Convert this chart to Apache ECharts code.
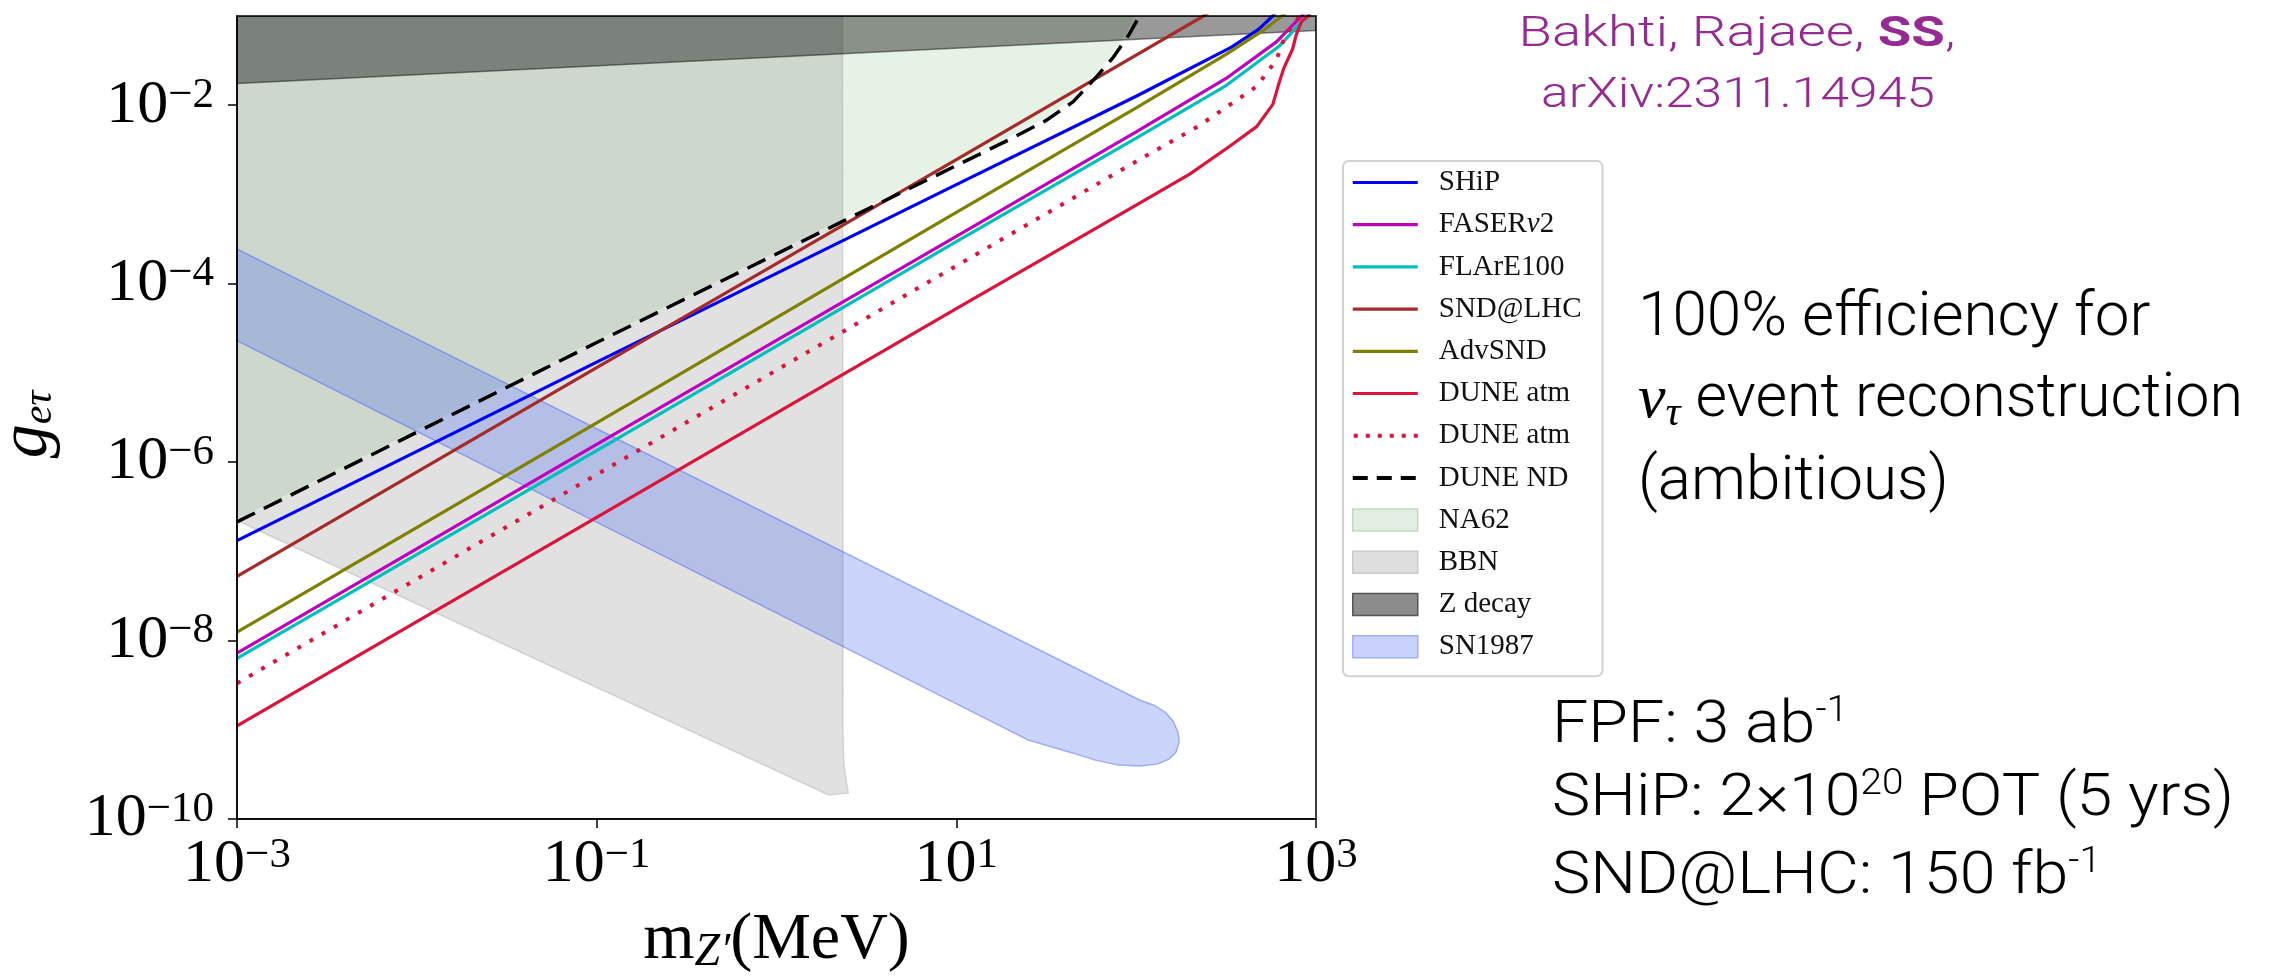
<!DOCTYPE html>
<html><head><meta charset="utf-8">
<script src="https://cdn.jsdelivr.net/npm/echarts@6.0.0/dist/echarts.min.js"></script>
<style>html,body{margin:0;padding:0;background:#fff}#c{width:2284px;height:976px}</style>
</head><body><div id="c"></div>
<script>
// ---- tick values ----
const xTicks = [1e-3, 1e-1, 1e1, 1e3];
const yTicks = [1e-10, 1e-8, 1e-6, 1e-4, 1e-2];

// ---- sensitivity curves (m_Z' in MeV, g) ----
const shipX = [1e-3, 1e-1, 10, 100, 339, 479, 575, 631];
const shipY = [1.32e-7, 1.32e-5, 1.29e-3, 1.26e-2, 4.47e-2, 7.08e-2, 0.1, 0.126];

const faserX = [1e-3, 0.1, 10, 100, 316.2, 602.6, 831.8, 912];
const faserY = [7.244e-9, 1.585e-6, 3.388e-4, 5.012e-3, 1.995e-2, 5.129e-2, 0.1, 0.1259];

const flareX = [1e-3, 0.1, 10, 100, 316.2, 631, 891.3, 955];
const flareY = [6.31e-9, 1.349e-6, 2.951e-4, 4.266e-3, 1.66e-2, 4.677e-2, 0.1, 0.1259];

const sndX = [1e-3, 0.1, 10, 251];
const sndY = [5.25e-8, 1.148e-5, 2.455e-3, 0.1072];

const advX = [1e-3, 0.1, 10, 100, 316.2, 501.2, 645.7, 724.4];
const advY = [1.245e-8, 2.754e-6, 6.31e-4, 9.33e-3, 3.715e-2, 6.76e-2, 0.1, 0.1202];

const duneX = [1e-3, 0.1, 10, 100, 199.5, 331.1, 467.7, 575.4, 616.6, 660.7, 741.3, 776.2, 831.8, 933.3];
const duneY = [1.107e-9, 2.399e-7, 5.248e-5, 7.586e-4, 1.698e-3, 3.467e-3, 5.754e-3, 1.023e-2, 1.66e-2, 2.57e-2, 4.266e-2, 6.166e-2, 8.71e-2, 0.1047];

const duneDotX = [1e-3, 0.1, 10, 100, 223.9, 467.7, 602.6, 676.1, 776.2, 831.8];
const duneDotY = [3.311e-9, 7.244e-7, 1.585e-4, 2.344e-3, 5.888e-3, 1.622e-2, 3.236e-2, 6.166e-2, 8.71e-2, 0.1122];

const ndX = [1e-3, 0.1, 3.162, 19.95, 31.62, 44.67, 60.26, 74.13, 91.2, 102.3, 112.2];
const ndY = [2.138e-7, 2.188e-5, 6.761e-4, 4.169e-3, 6.761e-3, 1.096e-2, 2.089e-2, 3.388e-2, 6.166e-2, 9.333e-2, 0.1259];

// ---- excluded regions (polygon outlines) ----
const na62X = [1e-3, 97.7, 89.1, 74.13, 60.26, 44.67, 31.62, 19.95, 3.162, 0.1, 1e-3];
const na62Y = [0.1, 0.1, 6.761e-2, 3.802e-2, 2.291e-2, 1.175e-2, 7.244e-3, 4.467e-3, 7.244e-4, 2.344e-5, 2.291e-7];

const bbnX = [1e-3, 2.328, 2.344, 2.371, 2.455, 2.512, 1.945, 1e-3];
const bbnY = [0.1, 0.1, 1e-9, 3.981e-10, 2.512e-10, 1.95e-10, 1.862e-10, 2.213e-7];

const zX = [1e-3, 1e3, 1e3, 1e-3];
const zY = [1.754e-2, 6.871e-2, 0.1, 0.1];

const snX = [1e-3, 105.2, 125.9, 144.9, 160.7, 171.0, 173.4, 166.7, 152.4, 130.9, 105.2, 79.43, 59.16, 44.67, 25.12, 1e-3];
const snY = [2.455e-4, 2.143e-9, 1.884e-9, 1.574e-9, 1.247e-9, 9.397e-10, 7.261e-10, 5.61e-10, 4.688e-10, 4.121e-10, 3.917e-10, 4.018e-10, 4.571e-10, 5.47e-10, 7.656e-10, 2.291e-5];

// ---- helpers ----
function pairs(xs, ys) { return xs.map((x, i) => [x, ys[i]]); }
function lineSeries(name, xs, ys, color, width, dash) {
  return {
    name: name, type: 'line', data: pairs(xs, ys), showSymbol: false, symbol: 'none',
    clip: true, silent: true, emphasis: { disabled: true },
    lineStyle: { color: color, width: width, type: dash || 'solid', cap: 'butt' },
    itemStyle: { color: color }
  };
}
function regionSeries(name, xs, ys, fill, stroke, lw) {
  return {
    name: name, type: 'custom', coordinateSystem: 'cartesian2d', clip: true, silent: true,
    itemStyle: { color: fill, borderColor: stroke, borderWidth: lw },
    data: [[xs[0], ys[0]]],
    renderItem: function (params, api) {
      const pts = xs.map((x, i) => api.coord([x, ys[i]]));
      return { type: 'polygon', shape: { points: pts },
        style: { fill: fill, stroke: stroke || 'none', lineWidth: lw || 0 } };
    }
  };
}
function powLabel(v) {
  const e = Math.round(Math.log10(v));
  return '{b|10}{e|' + (e < 0 ? '\u2212' + (-e) : e) + '}';
}
const serif = 'Liberation Serif';
const tickRich = {
  b: { fontFamily: serif, fontSize: 62, lineHeight: 62, color: '#000' },
  e: { fontFamily: serif, fontSize: 43, lineHeight: 38, color: '#000', verticalAlign: 'top' }
};
const legTxt = { fontFamily: serif, fontSize: 29, lineHeight: 30, color: '#111', padding: [0, 0, 0, 16] };
const legItalic = { fontFamily: serif, fontSize: 29, lineHeight: 30, color: '#111', fontStyle: 'italic' };

// legend icon shapes (65 x 22 box)
const solidIcon = 'path://M0,0L0,0M0,9.4L65,9.4L65,12.6L0,12.6ZM65,22L65,22';
const dashIcon = 'path://M0,0L0,0M0,9L15,9L15,13L0,13ZM24,9L39,9L39,13L24,13ZM48,9L63,9L63,13L48,13ZM65,22L65,22';
const dotIcon = 'path://M0,0L0,0M1,9L5,9L5,13L1,13ZM13,9L17,9L17,13L13,13ZM25,9L29,9L29,13L25,13ZM37,9L41,9L41,13L37,13ZM49,9L53,9L53,13L49,13ZM61,9L65,9L65,13L61,13ZM65,22L65,22';
function legLine(name, icon, color) { return { name: name, icon: icon, itemStyle: { color: color, borderWidth: 0 } }; }

const sans = 'Roboto';
const chart = echarts.init(document.getElementById('c'), null, { renderer: 'canvas' });
const option = {
  animation: false,
  backgroundColor: '#ffffff',
  grid: { left: 237, right: 968, top: 16, bottom: 157, containLabel: false, outerBoundsMode: 'none',
    show: true, borderColor: '#000', borderWidth: 1.5, z: 10, backgroundColor: 'transparent' },
  xAxis: {
    type: 'log', logBase: 10, min: 1e-3, max: 1e3, z: 10,
    name: '{m|m}{z|Z\u2032}{m|(MeV)}', nameLocation: 'middle', nameGap: 87,
    nameTextStyle: { rich: {
      m: { fontFamily: serif, fontSize: 66, lineHeight: 70, color: '#000' },
      z: { fontFamily: serif, fontSize: 46, lineHeight: 54, color: '#000', fontStyle: 'italic', verticalAlign: 'bottom' }
    } },
    axisLine: { show: true, lineStyle: { color: '#000', width: 1.5 } },
    axisTick: { show: true, length: 9, inside: false, customValues: xTicks, lineStyle: { color: '#000', width: 1.5 } },
    minorTick: { show: false },
    axisLabel: { customValues: xTicks, margin: 15, formatter: powLabel, rich: tickRich },
    splitLine: { show: false }
  },
  yAxis: {
    type: 'log', logBase: 10, min: 1e-10, max: 1e-1, z: 10,
    name: '{g|g}{s|e\u03c4}', nameLocation: 'middle', nameRotate: 90, nameGap: 176,
    nameTextStyle: { padding: [0, 14, 0, 0], rich: {
      g: { fontFamily: serif, fontSize: 68, lineHeight: 66, color: '#000', fontStyle: 'italic' },
      s: { fontFamily: serif, fontSize: 42, lineHeight: 48, color: '#000', fontStyle: 'italic', verticalAlign: 'bottom' }
    } },
    axisLine: { show: true, lineStyle: { color: '#000', width: 1.5 } },
    axisTick: { show: true, length: 9, inside: false, customValues: yTicks, lineStyle: { color: '#000', width: 1.5 } },
    minorTick: { show: false },
    axisLabel: { customValues: yTicks, margin: 23, formatter: powLabel, rich: tickRich },
    splitLine: { show: false }
  },
  legend: {
    orient: 'vertical', left: 1343, top: 161, selectedMode: false,
    padding: [7, 21, 15, 9], itemWidth: 65, itemHeight: 22, itemGap: 13.2,
    backgroundColor: 'rgba(255,255,255,0.9)', borderColor: '#d2d2d2', borderWidth: 2, borderRadius: 6,
    textStyle: { fontFamily: serif, fontSize: 29, color: '#111', rich: { t: legTxt, i: legItalic, u: { fontFamily: serif, fontSize: 29, lineHeight: 30, color: '#111' } } },
    formatter: function (name) {
      if (name === 'FASER\u03bd2') return '{t|FASER}{i|\u03bd}{u|2}';
      return '{t|' + name + '}';
    },
    data: [
      legLine('SHiP', solidIcon, '#0000ff'),
      legLine('FASER\u03bd2', solidIcon, '#bf00bf'),
      legLine('FLArE100', solidIcon, '#00bfbf'),
      legLine('SND@LHC', solidIcon, '#a52a2a'),
      legLine('AdvSND', solidIcon, '#808000'),
      legLine('DUNE atm', solidIcon, '#dc143c'),
      legLine('DUNE atm\u00a0', dotIcon, '#dc143c'),
      legLine('DUNE ND', dashIcon, '#000000'),
      { name: 'NA62', icon: 'rect', itemStyle: { color: '#e3efe3', borderColor: '#bfdcbf', borderWidth: 1.5 } },
      { name: 'BBN', icon: 'rect', itemStyle: { color: '#dedede', borderColor: '#cacaca', borderWidth: 1.5 } },
      { name: 'Z decay', icon: 'rect', itemStyle: { color: '#8c8c8c', borderColor: '#555555', borderWidth: 1.5 } },
      { name: 'SN1987', icon: 'rect', itemStyle: { color: '#cad2fb', borderColor: '#9fb0f8', borderWidth: 1.5 } }
    ]
  },
  series: [
    lineSeries('SHiP', shipX, shipY, '#0000ff', 3.2),
    lineSeries('FASER\u03bd2', faserX, faserY, '#bf00bf', 3.2),
    lineSeries('FLArE100', flareX, flareY, '#00bfbf', 3.2),
    lineSeries('SND@LHC', sndX, sndY, '#a52a2a', 3.2),
    lineSeries('AdvSND', advX, advY, '#808000', 3.2),
    lineSeries('DUNE atm', duneX, duneY, '#dc143c', 3.2),
    lineSeries('DUNE atm\u00a0', duneDotX, duneDotY, '#dc143c', 4, [4, 10]),
    lineSeries('DUNE ND', ndX, ndY, '#000000', 3.5, [20, 10]),
    regionSeries('NA62', na62X, na62Y, 'rgba(0,128,0,0.1)', null, 0),
    regionSeries('BBN', bbnX, bbnY, 'rgba(128,128,128,0.24)', 'rgba(128,128,128,0.25)', 1.5),
    regionSeries('Z decay', zX, zY, 'rgba(0,0,0,0.4)', 'rgba(0,0,0,0.45)', 1.5),
    regionSeries('SN1987', snX, snY, 'rgba(70,100,240,0.28)', 'rgba(70,100,240,0.45)', 1.5)
  ],
  graphic: [
    { type: 'text', x: 1737, y: 35, scaleX: 1.27, style: { text: '{p|Bakhti, Rajaee, }{b|SS}{p|,}', align: 'center', verticalAlign: 'middle', textAlign: 'center', textVerticalAlign: 'middle',
      rich: { p: { fontFamily: sans, fontWeight: 300, fontSize: 43, fill: '#952a92' }, b: { fontFamily: sans, fontWeight: 'bold', fontSize: 43, fill: '#952a92' } } } },
    { type: 'text', x: 1738, y: 96, scaleX: 1.2, style: { text: 'arXiv:2311.14945', align: 'center', verticalAlign: 'middle', textAlign: 'center', textVerticalAlign: 'middle',
      fontFamily: sans, fontWeight: 300, fontSize: 43, fill: '#952a92' } },
    { type: 'text', x: 1638, y: 319, style: { text: '100% efficiency for', align: 'left', verticalAlign: 'middle', textAlign: 'left', textVerticalAlign: 'middle',
      fontFamily: sans, fontWeight: 300, fontSize: 62, fill: '#000' } },
    { type: 'text', x: 1638, y: 401, style: { text: '{nu|\u03bd}{tau|\u03c4}{n| event reconstruction}', align: 'left', verticalAlign: 'middle', textAlign: 'left', textVerticalAlign: 'middle',
      rich: { nu: { fontFamily: serif, fontStyle: 'italic', fontSize: 62, lineHeight: 68, fill: '#000' },
              tau: { fontFamily: serif, fontStyle: 'italic', fontSize: 42, lineHeight: 42, fill: '#000', verticalAlign: 'bottom' },
              n: { fontFamily: sans, fontWeight: 300, fontSize: 61, lineHeight: 68, fill: '#000' } } } },
    { type: 'text', x: 1638, y: 483, style: { text: '(ambitious)', align: 'left', verticalAlign: 'middle', textAlign: 'left', textVerticalAlign: 'middle',
      fontFamily: sans, fontWeight: 300, fontSize: 62, fill: '#000' } },
    { type: 'text', x: 1552, y: 727, scaleX: 1.075, style: { text: '{n|FPF: 3 ab}{s|-1}', align: 'left', verticalAlign: 'middle', textAlign: 'left', textVerticalAlign: 'middle',
      rich: { n: { fontFamily: sans, fontWeight: 300, fontSize: 60, lineHeight: 66, fill: '#000' }, s: { fontFamily: sans, fontWeight: 300, fontSize: 36, lineHeight: 40, fill: '#000', verticalAlign: 'top' } } } },
    { type: 'text', x: 1552, y: 800, scaleX: 1.075, style: { text: '{n|SHiP: 2\u00d710}{s|20}{n| POT (5 yrs)}', align: 'left', verticalAlign: 'middle', textAlign: 'left', textVerticalAlign: 'middle',
      rich: { n: { fontFamily: sans, fontWeight: 300, fontSize: 60, lineHeight: 66, fill: '#000' }, s: { fontFamily: sans, fontWeight: 300, fontSize: 36, lineHeight: 40, fill: '#000', verticalAlign: 'top' } } } },
    { type: 'text', x: 1552, y: 878, scaleX: 1.075, style: { text: '{n|SND@LHC: 150 fb}{s|-1}', align: 'left', verticalAlign: 'middle', textAlign: 'left', textVerticalAlign: 'middle',
      rich: { n: { fontFamily: sans, fontWeight: 300, fontSize: 60, lineHeight: 66, fill: '#000' }, s: { fontFamily: sans, fontWeight: 300, fontSize: 36, lineHeight: 40, fill: '#000', verticalAlign: 'top' } } } }
  ]
};
chart.setOption(option);
</script></body></html>
